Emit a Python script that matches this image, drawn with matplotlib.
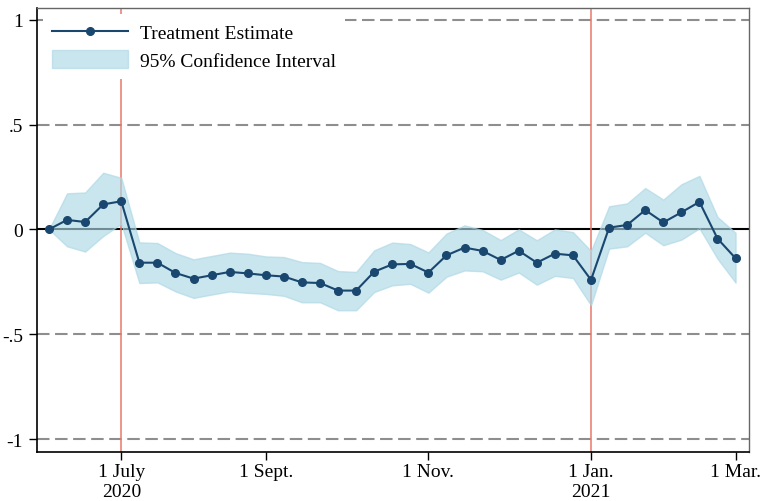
import matplotlib
matplotlib.use("Agg")
import matplotlib.pyplot as plt
import numpy as np
from matplotlib.lines import Line2D
from matplotlib.patches import Patch

plt.rcParams["font.family"] = ["Liberation Serif", "DejaVu Serif"]
plt.rcParams["lines.scale_dashes"] = False

# Weekly event-study estimates (week of year, counted from 2020)
weeks = np.arange(23, 62)
estimate = [0.000, 0.045, 0.035, 0.119, 0.134, -0.159, -0.159, -0.208, -0.235, -0.219,
            -0.203, -0.210, -0.219, -0.225, -0.253, -0.256, -0.292, -0.292, -0.202, -0.167,
            -0.165, -0.206, -0.124, -0.087, -0.103, -0.146, -0.102, -0.159, -0.116, -0.124,
            -0.241, 0.008, 0.021, 0.092, 0.033, 0.081, 0.131, -0.044, -0.138]
ci_upper = [0.000, 0.172, 0.176, 0.270, 0.246, -0.062, -0.065, -0.113, -0.143, -0.127,
            -0.111, -0.116, -0.129, -0.132, -0.156, -0.160, -0.199, -0.203, -0.100, -0.063,
            -0.070, -0.110, -0.020, 0.019, -0.003, -0.051, 0.000, -0.052, 0.000, -0.013,
            -0.103, 0.110, 0.124, 0.197, 0.142, 0.215, 0.255, 0.059, -0.016]
ci_lower = [0.000, -0.081, -0.106, -0.032, 0.027, -0.256, -0.253, -0.296, -0.327, -0.311,
            -0.296, -0.303, -0.308, -0.317, -0.348, -0.348, -0.386, -0.386, -0.299, -0.267,
            -0.260, -0.302, -0.226, -0.196, -0.200, -0.240, -0.206, -0.264, -0.222, -0.232,
            -0.362, -0.092, -0.081, -0.016, -0.076, -0.049, 0.005, -0.140, -0.254]

event_weeks = [27, 53]
xtick_weeks = [27, 35, 44, 53, 61]
xtick_labels = ["1 July\n2020", "1 Sept.", "1 Nov.", "1 Jan.\n2021", "1 Mar."]
ytick_values = [-1, -0.5, 0, 0.5, 1]
ytick_labels = ["-1", "-.5", "0", ".5", "1"]

navy = "#1a476f"
band_color = "#add8e6"

fig = plt.figure(figsize=(7.65, 5.02), dpi=100)
ax = fig.add_axes([0.048, 0.098, 0.931, 0.885])

# reference lines
for yv in [-1, -0.5, 0.5, 1]:
    ax.axhline(yv, color="#8e8e8e", lw=1.5, linestyle=(0, (9, 4)), zorder=1)
ax.axhline(0, color="black", lw=1.5, zorder=1.5)
for ev in event_weeks:
    ax.axvline(ev, color="#e8786b", lw=1.1, zorder=1.6)

# confidence band and point estimates
ax.fill_between(weeks, ci_lower, ci_upper, facecolor=band_color, alpha=0.65,
                edgecolor=band_color, lw=1, zorder=2)
ax.plot(weeks, estimate, color=navy, lw=1.5, marker="o", markersize=5.5, zorder=3)

ax.set_xlim(22.32, 61.74)
ax.set_ylim(-1.061, 1.058)
ax.set_xticks(xtick_weeks)
ax.set_xticklabels(xtick_labels, fontsize=14)
ax.set_yticks(ytick_values)
ax.set_yticklabels(ytick_labels, fontsize=14)
ax.tick_params(axis="both", direction="out", length=6, width=1, color="black")
ax.tick_params(axis="x", pad=2)
ax.tick_params(axis="y", pad=4)

for side in ["left", "bottom"]:
    ax.spines[side].set_color("black")
    ax.spines[side].set_linewidth(1.2)
for side in ["top", "right"]:
    ax.spines[side].set_color("#666666")
    ax.spines[side].set_linewidth(1.0)

handles = [
    Line2D([0], [0], color=navy, lw=1.5, marker="o", markersize=5.5),
    Patch(facecolor=band_color, alpha=0.65, edgecolor=band_color, lw=1),
]
leg = ax.legend(handles, ["Treatment Estimate", "95% Confidence Interval"],
                loc="upper left", bbox_to_anchor=(0.0088, 0.9854), fontsize=14,
                frameon=True, facecolor="white", edgecolor="none", framealpha=1,
                fancybox=False, handlelength=3.9, handleheight=1.0,
                handletextpad=0.65, borderpad=0.46, labelspacing=0.41,
                borderaxespad=0.0)
leg.set_zorder(2.4)

fig.savefig("out.png", dpi=100)
